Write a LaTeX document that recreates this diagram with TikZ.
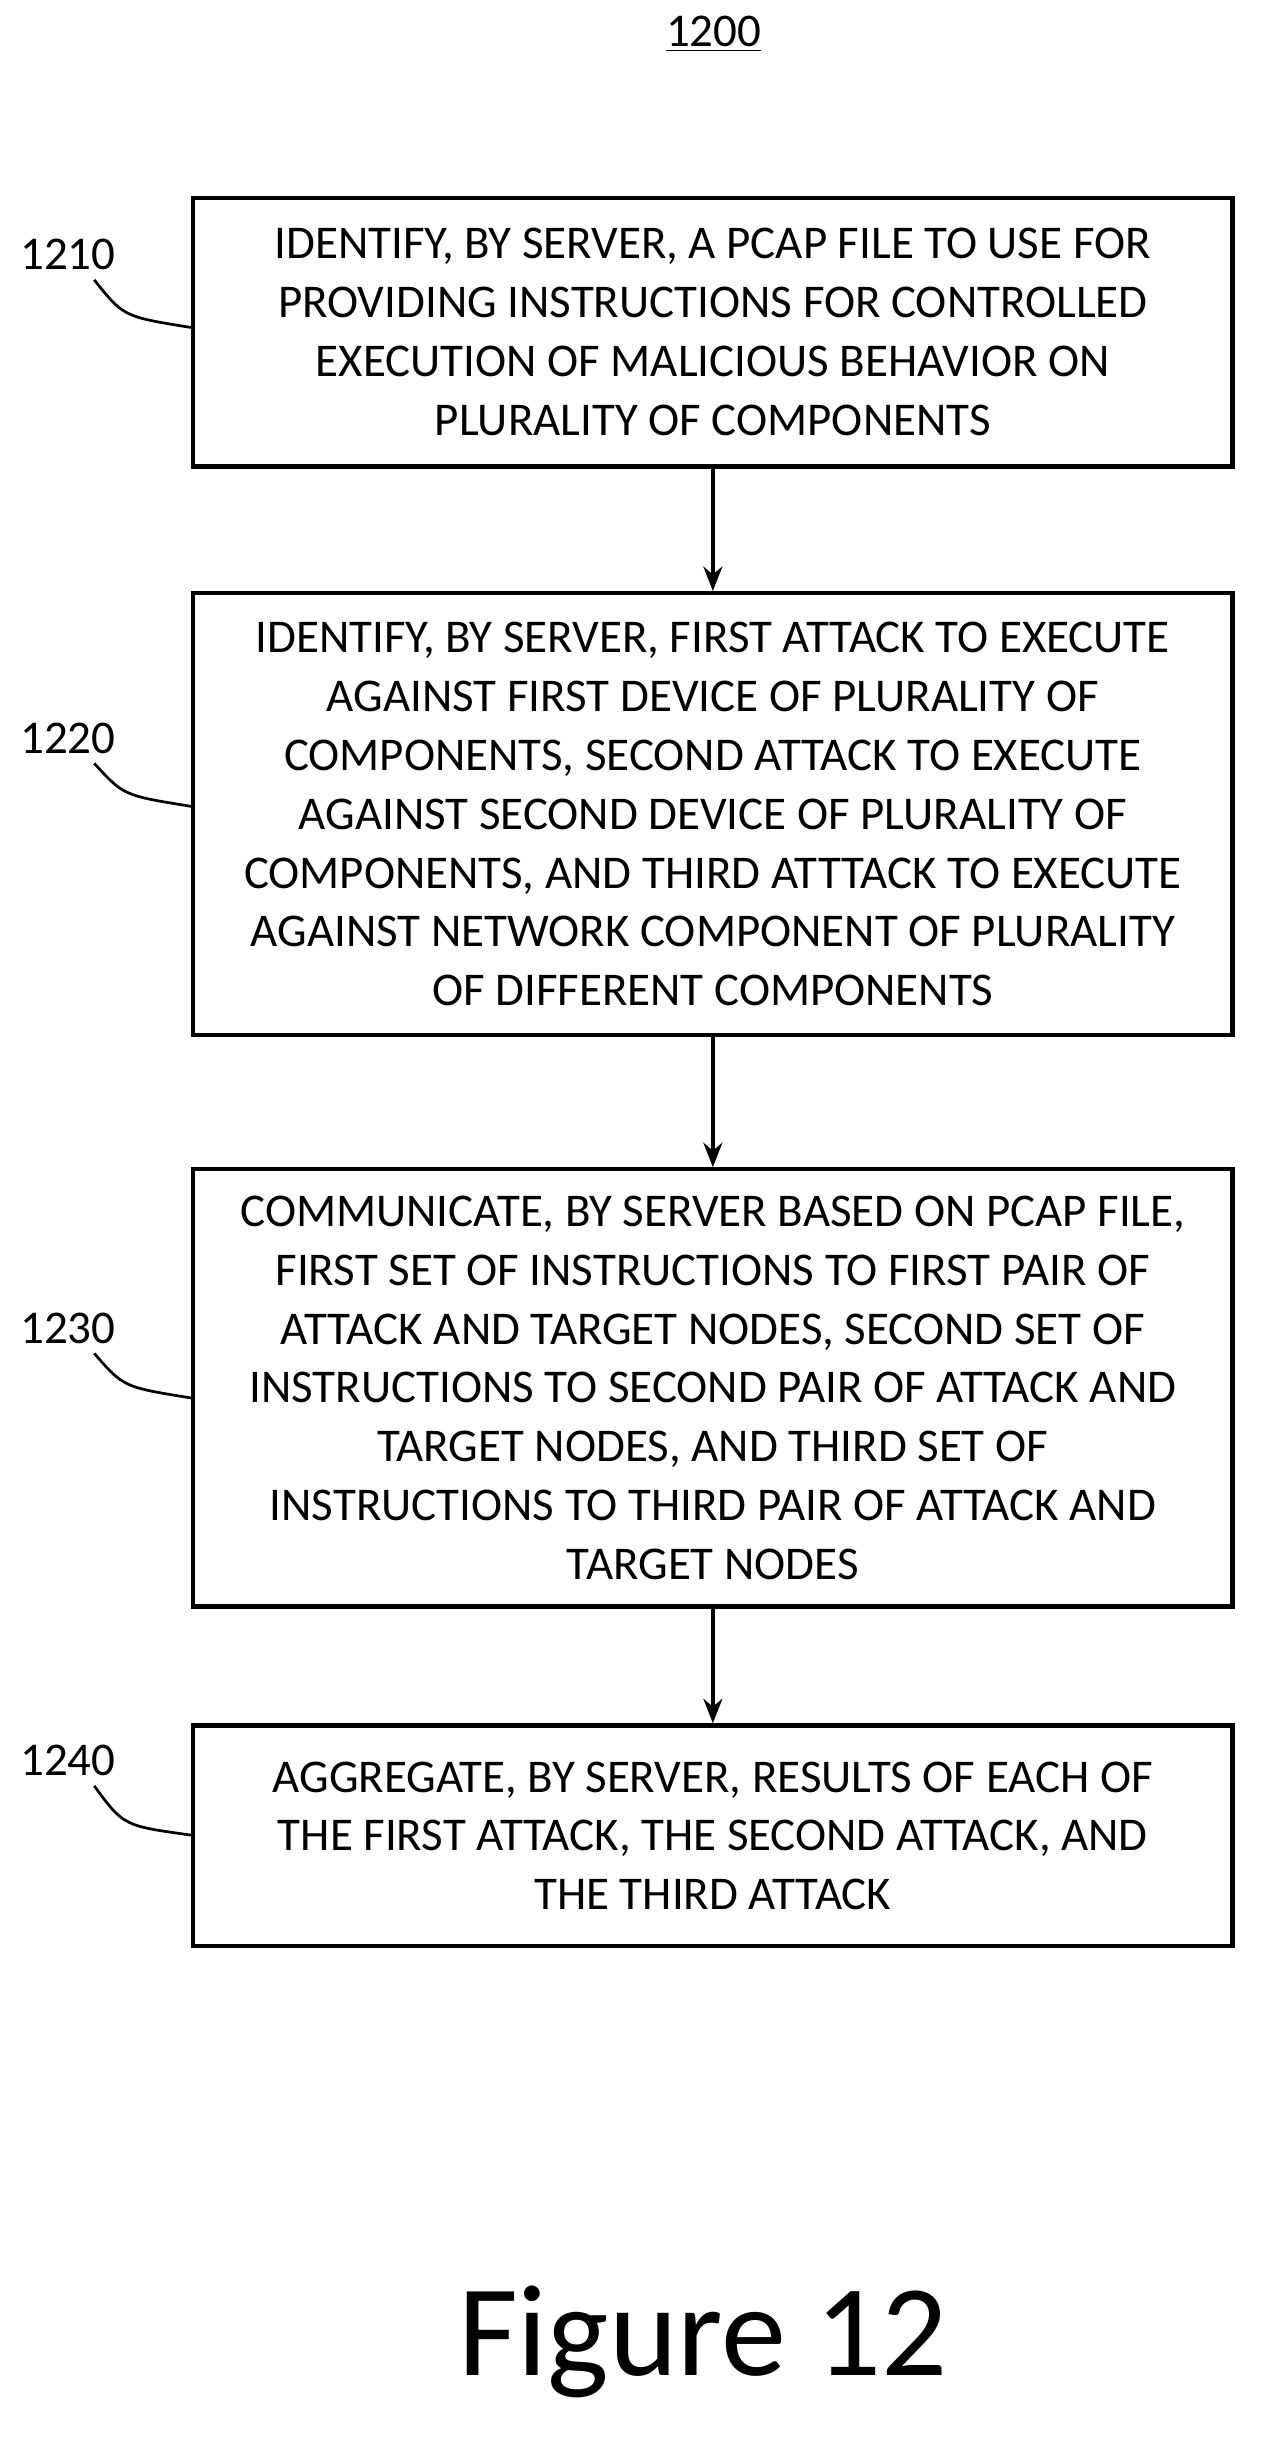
\documentclass[tikz,border=0pt]{standalone}
\usetikzlibrary{arrows.meta}
\usepackage{fontspec}
\setmainfont{Carlito}
\begin{document}
\begin{tikzpicture}[x=0.02cm,y=-0.02cm,
  box/.style={draw,line width=1.6pt,align=center,inner sep=0pt,font=\fontsize{17.3}{21.7}\selectfont},
  lab/.style={font=\fontsize{17.3}{20}\selectfont},
  arr/.style={-{Stealth[length=9pt,width=7pt]},line width=1.3pt},
  lead/.style={line width=1pt}]
\useasboundingbox (0,0) rectangle (820,1579);
\node[lab] (t) at (462,22) {\underline{1200}};
\node[box,minimum width=673*0.02cm,minimum height=174*0.02cm] (b1) at (461.5,215) {IDENTIFY, BY SERVER, A PCAP FILE TO USE FOR\\PROVIDING INSTRUCTIONS FOR CONTROLLED\\EXECUTION OF MALICIOUS BEHAVIOR ON\\PLURALITY OF COMPONENTS};
\node[box,minimum width=673*0.02cm,minimum height=286*0.02cm] (b2) at (461.5,527) {IDENTIFY, BY SERVER, FIRST ATTACK TO EXECUTE\\AGAINST FIRST DEVICE OF PLURALITY OF\\COMPONENTS, SECOND ATTACK TO EXECUTE\\AGAINST SECOND DEVICE OF PLURALITY OF\\COMPONENTS, AND THIRD ATTTACK TO EXECUTE\\AGAINST NETWORK COMPONENT OF PLURALITY\\OF DIFFERENT COMPONENTS};
\node[box,minimum width=673*0.02cm,minimum height=283*0.02cm] (b3) at (461.5,898.5) {COMMUNICATE, BY SERVER BASED ON PCAP FILE,\\FIRST SET OF INSTRUCTIONS TO FIRST PAIR OF\\ATTACK AND TARGET NODES, SECOND SET OF\\INSTRUCTIONS TO SECOND PAIR OF ATTACK AND\\TARGET NODES, AND THIRD SET OF\\INSTRUCTIONS TO THIRD PAIR OF ATTACK AND\\TARGET NODES};
\node[box,minimum width=673*0.02cm,minimum height=143*0.02cm] (b4) at (461.5,1188.5) {AGGREGATE, BY SERVER, RESULTS OF EACH OF\\THE FIRST ATTACK, THE SECOND ATTACK, AND\\THE THIRD ATTACK};
\draw[arr] (b1) -- (b2);
\draw[arr] (b2) -- (b3);
\draw[arr] (b3) -- (b4);
\node[lab] (l1) at (44,165) {1210};
\node[lab] (l2) at (44,478) {1220};
\node[lab] (l3) at (44,860) {1230};
\node[lab] (l4) at (44,1140) {1240};
\coordinate (c1) at (b1.west|-0,212);
\coordinate (c2) at (b2.west|-0,522);
\coordinate (c3) at (b3.west|-0,905);
\coordinate (c4) at (b4.west|-0,1188);
\draw[lead] (l1.south east) ++(-20,0) .. controls (80,205) .. (c1);
\draw[lead] (l2.south east) ++(-20,0) .. controls (80,515) .. (c2);
\draw[lead] (l3.south east) ++(-20,0) .. controls (80,898) .. (c3);
\draw[lead] (l4.south east) ++(-20,0) .. controls (80,1182) .. (c4);
\node[font=\fontsize{48}{50}\selectfont] (f) at (455,1516) {Figure 12};
\end{tikzpicture}
\end{document}
